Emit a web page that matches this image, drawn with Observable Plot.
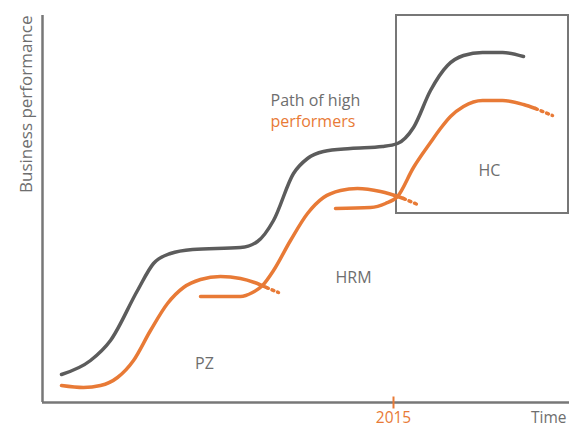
<!DOCTYPE html>
<html>
<head>
<meta charset="utf-8">
<script src="https://cdn.jsdelivr.net/npm/d3@7"></script>
<script src="https://cdn.jsdelivr.net/npm/@observablehq/plot@0.6"></script>
<style>
  html, body { margin: 0; padding: 0; background: #fff; }
  svg { display: block; }
</style>
</head>
<body>
<div id="chart"></div>
<script>
// Time (t) and business performance (p), abstract units
const highPerformers = [
  [19,28],[48,42],[68,62],[95,112],[111,139],[128,149],[150,153],[198,155],
  [215,161],[231,182],[251,229],[265,244],[281,251],[308,254],[340,256],[355,259],
  [371,275],[388,312],[405,337],[421,347],[440,350],[460,350],[481,346]
].map(([t,p]) => ({t,p}));

const pzPath = [
  [19,17],[41,15],[58,17],[75,25],[91,42],[108,72],[125,99],[141,115],
  [158,123],[178,126],[198,124],[212,120],[224,115]
].map(([t,p]) => ({t,p}));
const pzFade = [[224,115],[236,110]].map(([t,p]) => ({t,p}));

const hrmPath = [
  [158,106],[198,106],[210,110],[220,117],[231,132],[248,162],[265,189],
  [281,205],[298,212],[315,214],[338,211],[361,204]
].map(([t,p]) => ({t,p}));
const hrmFade = [[361,204],[375,198]].map(([t,p]) => ({t,p}));

const hcPath = [
  [293,194],[328,195],[343,199],[355,206],[371,235],[388,260],[398,274],
  [408,286],[421,296],[440,302],[460,302],[481,298],[493,294]
].map(([t,p]) => ({t,p}));
const hcFade = [[493,294],[510,287]].map(([t,p]) => ({t,p}));

const hcWindow = [{t1: 354, t2: 526, p1: 189, p2: 387}];

const timeTicks = [{t: 351, label: "2015", lo: -6, hi: 6}];

const labels = [
  {t: 228, p: 302, text: "Path of high", color: "gray", anchor: "start"},
  {t: 228, p: 281, text: "performers", color: "orange", anchor: "start"},
  {t: 311, p: 125, text: "HRM", color: "gray", anchor: "middle"},
  {t: 162, p: 39,  text: "PZ",  color: "gray", anchor: "middle"},
  {t: 447, p: 232, text: "HC",  color: "gray", anchor: "middle"}
];

const GRAY = "#5c5c5c";
const AXIS = "#777777";
const TEXT = "#6e6e6e";
const ORANGE = "#e87a36";
const FONT = "'Open Sans', 'Noto Sans', sans-serif";

const lineOpts = {x: "t", y: "p", curve: "monotone-x", strokeWidth: 3.5, strokeLinecap: "round"};
const fadeOpts = {x: "t", y: "p", stroke: ORANGE, strokeWidth: 3.5, strokeDasharray: "2,4", strokeLinecap: "round"};

const chart = Plot.plot({
  width: 569,
  height: 428,
  marginLeft: 42,
  marginRight: 0,
  marginTop: 15,
  marginBottom: 26,
  x: {domain: [0, 527], axis: null},
  y: {domain: [0, 387], axis: null},
  style: {fontFamily: FONT, background: "#fff"},
  marks: [
    Plot.ruleY([0], {stroke: AXIS, strokeWidth: 2.5}),
    Plot.ruleX([0], {stroke: AXIS, strokeWidth: 2.5}),
    Plot.rect(hcWindow, {x1: "t1", x2: "t2", y1: "p1", y2: "p2", fill: "none", stroke: AXIS, strokeWidth: 2}),
    Plot.line(highPerformers, {...lineOpts, stroke: GRAY}),
    Plot.line(pzPath, {...lineOpts, stroke: ORANGE}),
    Plot.line(pzFade, fadeOpts),
    Plot.line(hrmPath, {...lineOpts, stroke: ORANGE}),
    Plot.line(hrmFade, fadeOpts),
    Plot.line(hcPath, {...lineOpts, stroke: ORANGE}),
    Plot.line(hcFade, fadeOpts),
    Plot.link(timeTicks, {x1: "t", x2: "t", y1: "lo", y2: "hi", stroke: ORANGE, strokeWidth: 2}),
    Plot.text(timeTicks, {x: "t", y: d => 0, text: "label", dy: 16, fill: ORANGE, fontSize: 15.5}),
    Plot.text(["Time"], {frameAnchor: "bottom-right", lineAnchor: "middle", dy: 16, dx: -3, textAnchor: "end", fill: TEXT, fontSize: 15.5}),
    Plot.text(["Business performance"], {frameAnchor: "top-left", rotate: -90, textAnchor: "end", dx: -23, fill: TEXT, fontSize: 17}),
    Plot.text(labels, {x: "t", y: "p", text: "text", textAnchor: "start",
      filter: d => d.anchor === "start",
      fill: d => d.color === "orange" ? ORANGE : TEXT, fontSize: 16}),
    Plot.text(labels, {x: "t", y: "p", text: "text",
      filter: d => d.anchor === "middle",
      fill: d => d.color === "orange" ? ORANGE : TEXT, fontSize: 16})
  ]
});
document.getElementById("chart").appendChild(chart);
</script>
</body>
</html>
